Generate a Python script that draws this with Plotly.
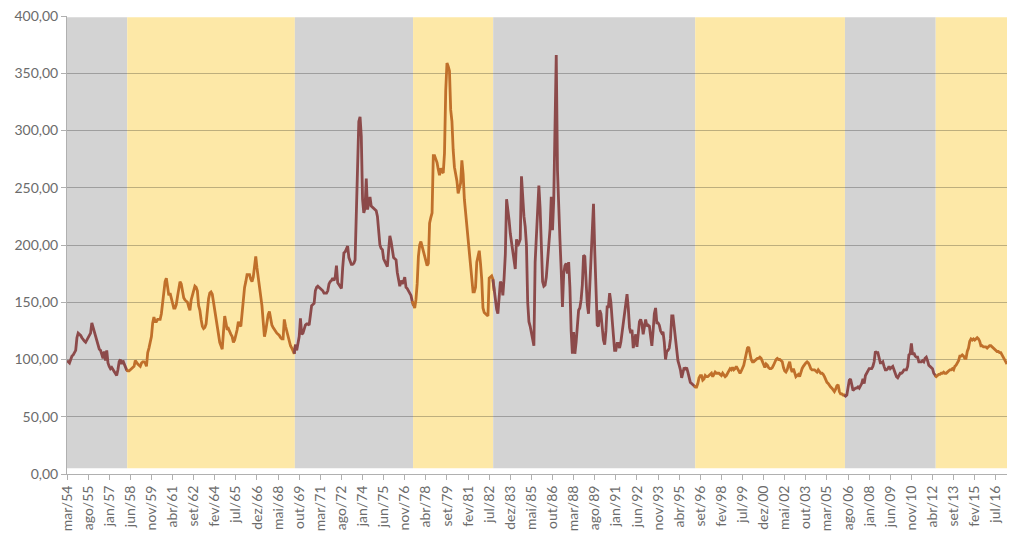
import math
import plotly.graph_objects as go

MESES = ["jan", "fev", "mar", "abr", "mai", "jun", "jul", "ago", "set", "out", "nov", "dez"]
START_YEAR = 1954
START_MONTH = 2  # mar

VALUES = [
    99, 98, 97, 100, 103, 104, 106, 108, 119, 123, 122, 121,
    119, 117, 116, 115, 117, 119, 120, 123, 132, 128, 124, 120,
    118, 112, 109, 108, 105, 101, 107, 99, 108, 97, 94, 92,
    93, 91, 89, 88, 86, 91, 98, 100, 96, 99, 96, 93,
    91, 90, 90, 91, 92, 93, 94, 99, 97, 96, 95, 94,
    97, 98, 98, 97, 94, 106, 110, 115, 120, 132, 137, 133,
    133, 135, 135, 135, 140, 150, 162, 168, 171, 164, 156, 158,
    153, 148, 145, 145, 148, 155, 163, 168, 166, 158, 154, 152,
    151, 150, 146, 143, 152, 157, 162, 164, 163, 160, 147, 143,
    135, 129, 127, 128, 131, 146, 153, 158, 159, 157, 150, 140,
    134, 128, 118, 115, 112, 109, 124, 138, 132, 126, 127, 124,
    122, 120, 115, 117, 121, 126, 133, 130, 129, 143, 153, 163,
    168, 174, 174, 174, 170, 168, 172, 181, 190, 180, 172, 164,
    155, 147, 133, 120, 125, 133, 139, 142, 136, 130, 128, 126,
    124, 123, 122, 121, 119, 118, 118, 135, 129, 124, 120, 116,
    112, 110, 108, 105, 113, 108, 116, 120, 136, 122, 123, 126,
    130, 131, 131, 130, 137, 147, 148, 149, 160, 163, 164, 163,
    162, 161, 160, 158, 158, 158, 160, 166, 168, 169, 171, 169,
    172, 182, 167, 165, 163, 162, 180, 193, 194, 196, 199, 189,
    186, 183, 183, 184, 187, 235, 280, 308, 312, 295, 240, 228,
    232, 258, 231, 236, 242, 234, 233, 232, 231, 230, 225, 212,
    200, 197, 196, 188, 186, 184, 181, 195, 208, 203, 197, 189,
    188, 187, 176, 169, 164, 169, 166, 168, 172, 163, 162, 160,
    158, 156, 151, 147, 145, 152, 166, 190, 200, 203, 199, 196,
    191, 188, 182, 184, 219, 224, 228, 278, 278, 275, 272, 266,
    261, 267, 264, 263, 280, 335, 359, 356, 352, 318, 308, 283,
    268, 262, 256, 245, 250, 254, 274, 262, 240, 228, 218, 204,
    196, 186, 171, 159, 159, 163, 185, 192, 195, 184, 170, 145,
    141, 140, 139, 138, 171, 172, 173, 170, 160, 152, 144, 140,
    152, 168, 166, 156, 171, 192, 240, 232, 222, 210, 202, 196,
    188, 179, 205, 199, 202, 205, 260, 240, 225, 216, 200, 150,
    133, 129, 123, 117, 112, 185, 210, 240, 252, 232, 190, 168,
    164, 165, 172, 185, 195, 214, 242, 213, 240, 300, 366, 265,
    225, 204, 178, 146, 175, 182, 184, 175, 185, 163, 125, 105,
    124, 105, 115, 130, 143, 145, 152, 165, 191, 190, 165, 148,
    140, 165, 195, 218, 236, 195, 160, 130, 129, 143, 140, 128,
    117, 113, 125, 146, 146, 158, 150, 135, 122, 108, 108, 114,
    114, 110, 115, 123, 135, 139, 148, 157, 145, 128, 123, 126,
    110, 118, 122, 111, 125, 133, 135, 131, 122, 128, 135, 129,
    130, 129, 122, 112, 125, 140, 145, 132, 132, 130, 125, 123,
    124, 115, 100, 107, 108, 110, 118, 138, 138, 128, 120, 105,
    99, 95, 91, 84, 90, 93, 91, 93, 89, 84, 80, 79,
    78, 77, 76, 76, 79, 84, 86, 86, 82, 83, 86, 85,
    85, 86, 87, 88, 85, 87, 89, 88, 88, 88, 87, 86,
    88, 86, 85, 86, 88, 90, 92, 91, 93, 91, 92, 94,
    92, 89, 88, 90, 92, 95, 100, 107, 110, 111, 105, 100,
    98, 98, 99, 100, 101, 101, 102, 101, 98, 95, 93, 96,
    95, 93, 92, 92, 93, 95, 98, 100, 101, 100, 100, 99,
    98, 93, 90, 89, 91, 95, 98, 92, 89, 92, 88, 85,
    86, 87, 85, 90, 92, 94, 96, 97, 98, 97, 95, 92,
    91, 91, 91, 90, 89, 91, 89, 88, 88, 87, 85, 82,
    80, 79, 77, 76, 75, 73, 72, 74, 77, 78, 72, 70,
    70, 69, 69, 68, 69, 76, 82, 83, 77, 73, 74, 75,
    75, 76, 75, 77, 79, 83, 79, 86, 88, 91, 92, 92,
    92, 94, 98, 107, 106, 106, 102, 97, 97, 98, 94, 91,
    91, 92, 94, 92, 93, 94, 91, 88, 85, 84, 86, 88,
    88, 89, 91, 91, 91, 94, 104, 105, 114, 104, 106, 103,
    102, 102, 98, 98, 98, 99, 98, 101, 102, 99, 95, 94,
    93, 92, 88, 86, 85, 86, 87, 87, 88, 88, 89, 88,
    88, 89, 90, 91, 91, 92, 91, 94, 95, 97, 99, 103,
    103, 104, 103, 101, 101, 107, 110, 116, 118, 117, 118, 117,
    118, 119, 118, 116, 112, 112, 111, 111, 111, 110, 111, 112,
    112, 111, 110, 109, 108, 107, 107, 106, 106, 104, 103, 101, 99, 96,
]

# period boundaries (position along the monthly axis) and period type
BAND_EDGES = [0, 48.5, 183.5, 278.7, 343.2, 505.9, 626.5, 699.6, len(VALUES) - 1]
BAND_KIND = ["cinza", "amarelo", "cinza", "amarelo", "cinza", "amarelo", "cinza", "amarelo"]

BAND_FILL = {"cinza": "#D3D3D3", "amarelo": "#FDE8A7"}
LINE_COLOR = {"cinza": "#8C4A4A", "amarelo": "#C0702B"}

categories = []
for k in range(len(VALUES)):
    m = START_MONTH + k
    y = START_YEAR + m // 12
    categories.append(f"{MESES[m % 12]}/{str(y)[2:]}")

TICK_STEP = 17
tick_labels = categories[::TICK_STEP]

fig = go.Figure()

shapes = []
for j, kind in enumerate(BAND_KIND):
    shapes.append(dict(
        type="rect", xref="x", yref="y",
        x0=BAND_EDGES[j], x1=BAND_EDGES[j + 1], y0=5, y1=399,
        fillcolor=BAND_FILL[kind], line=dict(width=0), layer="below",
    ))

for j, kind in enumerate(BAND_KIND):
    a = math.floor(BAND_EDGES[j])
    b = min(math.ceil(BAND_EDGES[j + 1]), len(VALUES) - 1)
    fig.add_trace(go.Scatter(
        x=categories[a:b + 1], y=VALUES[a:b + 1], mode="lines",
        line=dict(color=LINE_COLOR[kind], width=2.8),
        showlegend=False, hoverinfo="x+y",
    ))

fig.update_layout(
    width=1024, height=536,
    margin=dict(l=67, r=17, t=16, b=62),
    paper_bgcolor="white", plot_bgcolor="white",
    separators=",.",
    shapes=shapes,
    font=dict(family="Lato, 'Liberation Sans', sans-serif", color="#6b6b6b", size=14),
    xaxis=dict(
        type="category", categoryorder="array", categoryarray=categories,
        range=[0, len(VALUES) - 1], automargin=False,
        tickmode="array", tickvals=tick_labels, ticktext=tick_labels,
        tickangle=-90, ticks="outside", ticklen=5, tickcolor="#b0b0b0",
        showgrid=False, showline=True, linecolor="#b0b0b0", linewidth=1,
        tickfont=dict(size=14, color="#6b6b6b"),
    ),
    yaxis=dict(
        range=[0, 400], dtick=50, tickformat=".2f", automargin=False,
        ticks="outside", ticklen=5, tickcolor="#b0b0b0",
        showgrid=True, gridcolor="rgba(0,0,0,0.25)", gridwidth=1,
        showline=True, linecolor="#b0b0b0", linewidth=1,
        zeroline=False,
        tickfont=dict(size=14, color="#6b6b6b"),
    ),
)

fig.write_html("out.html")
